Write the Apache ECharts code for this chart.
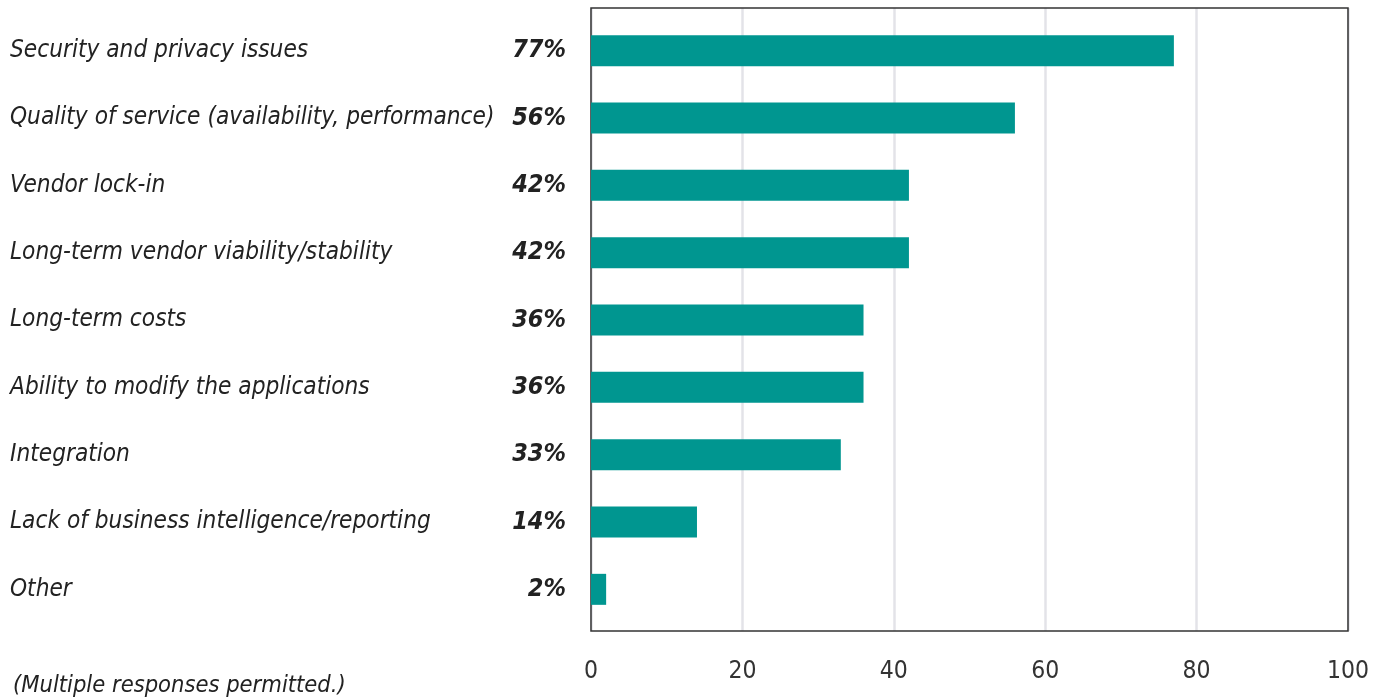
<!DOCTYPE html>
<html>
<head>
<meta charset="utf-8">
<script src="https://cdn.jsdelivr.net/npm/echarts@6/dist/echarts.min.js"></script>
<style>
  html, body { margin: 0; padding: 0; background: #fff; }
  #chart { width: 1392px; height: 698px; }
</style>
</head>
<body>
<div id="chart"></div>
<script>
// Concerns about cloud services, share of respondents (%)
const categories = [
  'Security and privacy issues',
  'Quality of service (availability, performance)',
  'Vendor lock-in',
  'Long-term vendor viability/stability',
  'Long-term costs',
  'Ability to modify the applications',
  'Integration',
  'Lack of business intelligence/reporting',
  'Other'
];
const shares = [77, 56, 42, 42, 36, 36, 33, 14, 2];
const xTicks = [0, 20, 40, 60, 80, 100];
const footnote = '(Multiple responses permitted.)';

const FONT = '"Liberation Sans Narrow", "DejaVu Sans Condensed", "Roboto", sans-serif';
const PLOT_LEFT = 591, PLOT_WIDTH = 757;

const chart = echarts.init(document.getElementById('chart'), null, { renderer: 'canvas' });
chart.setOption({
  animation: false,
  backgroundColor: '#ffffff',
  textStyle: { fontFamily: FONT },
  title: {
    text: footnote,
    left: 13,
    top: 674,
    padding: 0,
    textStyle: { fontFamily: FONT, fontStyle: 'italic', fontWeight: 'normal', fontSize: 23.5, color: '#222' }
  },
  grid: [
    // bars
    { left: PLOT_LEFT, width: PLOT_WIDTH, top: 17, height: 606, containLabel: false },
    // frame, gridlines and value ticks
    { left: PLOT_LEFT, width: PLOT_WIDTH, top: 8, height: 623, show: true,
      borderColor: '#333', borderWidth: 1.5, backgroundColor: 'transparent', z: 3 }
  ],
  xAxis: [
    { gridIndex: 0, type: 'value', min: 0, max: 100, interval: 20, show: false },
    {
      gridIndex: 1, type: 'value', min: 0, max: 100, interval: 20,
      axisLine: { show: false }, axisTick: { show: false },
      splitLine: { show: true, lineStyle: { color: '#e3e3e8', width: 2.5 } },
      axisLabel: {
        margin: 28, fontFamily: FONT, fontSize: 24.5, color: '#333',
        formatter: v => xTicks.includes(v) ? String(v) : ''
      }
    }
  ],
  yAxis: [
    {
      gridIndex: 0, type: 'category', data: categories, inverse: true,
      axisLine: { show: false }, axisTick: { show: false }, splitLine: { show: false },
      axisLabel: {
        align: 'left', margin: PLOT_LEFT - 10,
        fontFamily: FONT, fontStyle: 'italic', fontSize: 24.2, color: '#222'
      }
    },
    { gridIndex: 1, type: 'value', min: 0, max: 1, show: false }
  ],
  series: [{
    type: 'bar',
    xAxisIndex: 0, yAxisIndex: 0,
    data: shares,
    barWidth: 31,
    z: 4,
    itemStyle: { color: '#009690' },
    label: {
      show: true, position: 'left', distance: 25,
      formatter: p => p.value + '%',
      fontFamily: FONT, fontStyle: 'italic', fontWeight: 'bold', fontSize: 25, color: '#222'
    }
  }]
});
</script>
</body>
</html>
